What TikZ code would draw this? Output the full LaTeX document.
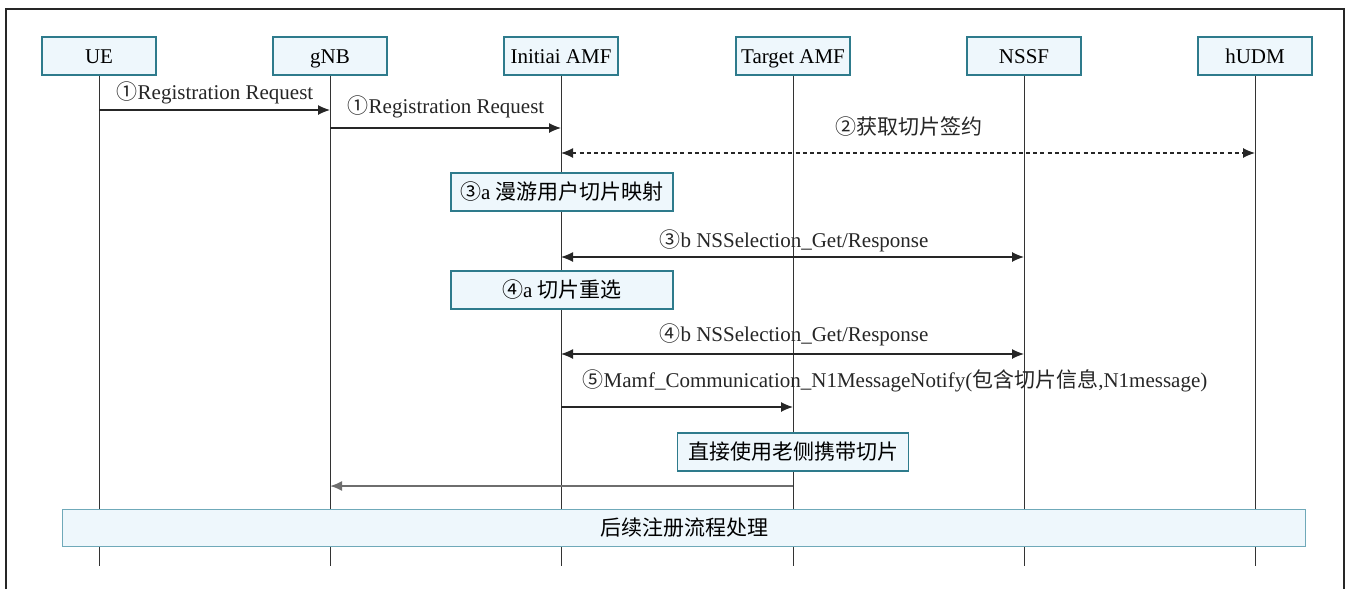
\documentclass[tikz,border=0pt]{standalone}
\usepackage{fontspec}
\setmainfont{Liberation Serif}
\newfontfamily\cjk{Noto Sans CJK SC}
\usetikzlibrary{arrows.meta}
\definecolor{boxfill}{HTML}{EEF7FC}
\definecolor{boxline}{HTML}{2E7B8C}
\definecolor{barline}{HTML}{6FA9B9}
\definecolor{lifeline}{HTML}{333333}
\definecolor{backline}{HTML}{6E6E6E}
\begin{document}
\begin{tikzpicture}[x=0.5pt,y=-0.5pt,
  font=\fontsize{10.5}{12}\selectfont,
  actor/.style={draw=boxline, fill=boxfill, line width=0.6pt,
    minimum width=57pt, minimum height=19pt, inner sep=0pt,
    text height=7pt, text depth=0pt},
  notebox/.style={draw=boxline, fill=boxfill, line width=0.6pt,
    minimum height=19pt, inner sep=0pt},
  barbox/.style={draw=barline, fill=boxfill, line width=0.8pt,
    minimum height=18.5pt, inner sep=0pt},
  life/.style={draw=lifeline, line width=0.5pt},
  tip/.style={-{Latex[length=6pt,width=5pt]}},
  msg/.style={draw=black!85, line width=0.6pt, tip},
  both/.style={draw=black!85, line width=0.6pt,
    {Latex[length=6pt,width=5pt]}-{Latex[length=6pt,width=5pt]}},
  lbl/.style={inner sep=0pt, text=black!85},
  frameline/.style={draw=black!85, line width=0.8pt}]
\useasboundingbox (0,0) rectangle (1352,589);

% outer frame, open at the bottom
\draw[frameline] (6,589) -- (6,9) -- (1344,9) -- (1344,589);

% participants
\node[actor] (ue)   at (99,56)   {UE};
\node[actor] (gnb)  at (330,56)  {gNB};
\node[actor] (iamf) at (561,56)  {Initiai AMF};
\node[actor] (tamf) at (793,56)  {Target AMF};
\node[actor] (nssf) at (1024,56) {NSSF};
\node[actor] (hudm) at (1255,56) {hUDM};

% lifelines
\foreach \p in {ue,gnb,iamf,tamf,nssf,hudm}{
  \coordinate (\p-end) at (\p |- 0,566);
  \draw[life] (\p.south) -- (\p-end);
}

% message anchor points on the lifelines
\coordinate (m1a) at (ue |- 0,110);   \coordinate (m1b) at (gnb |- 0,110);
\coordinate (m2a) at (gnb |- 0,128);  \coordinate (m2b) at (iamf |- 0,128);
\coordinate (m3a) at (iamf |- 0,153); \coordinate (m3b) at (hudm |- 0,153);
\coordinate (m4a) at (iamf |- 0,257); \coordinate (m4b) at (nssf |- 0,257);
\coordinate (m5a) at (iamf |- 0,354); \coordinate (m5b) at (nssf |- 0,354);
\coordinate (m6a) at (iamf |- 0,407); \coordinate (m6b) at (tamf |- 0,407);
\coordinate (m7a) at (tamf |- 0,486); \coordinate (m7b) at (gnb |- 0,486);

% messages
\draw[msg] (m1a) -- (m1b);
\node[lbl] (l1) at (215,93) {{\cjk ①}Registration Request};
\draw[msg] (m2a) -- (m2b);
\node[lbl] (l2) at (446,107) {{\cjk ①}Registration Request};
\draw[both, dash pattern=on 2pt off 1.6pt] (m3a) -- (m3b);
\node[lbl] (l3) at (909,127) {\cjk ②获取切片签约};
\draw[both] (m4a) -- (m4b);
\node[lbl] (l4) at (794,241) {{\cjk ③}b NSSelection\_Get/Response};
\draw[both] (m5a) -- (m5b);
\node[lbl] (l5) at (794,335) {{\cjk ④}b NSSelection\_Get/Response};
\draw[msg] (m6a) -- (m6b);
\node[lbl] (l6) at (895,381) {{\cjk ⑤}Mamf\_Communication\_N1MessageNotify({\cjk 包含切片信息},N1message)};
\draw[draw=backline, line width=0.9pt, tip] (m7a) -- (m7b);

% local processing notes
\node[notebox, minimum width=111pt] (n3a) at (562,192) {{\cjk ③}a {\cjk 漫游用户切片映射}};
\node[notebox, minimum width=111pt] (n4a) at (562,290) {{\cjk ④}a {\cjk 切片重选}};
\node[notebox, minimum width=115.5pt] (nold) at (793,452) {\cjk 直接使用老侧携带切片};

% closing bar across all lifelines
\node[barbox, minimum width=621.5pt] (rest) at (684,528) {\cjk 后续注册流程处理};
\end{tikzpicture}
\end{document}
